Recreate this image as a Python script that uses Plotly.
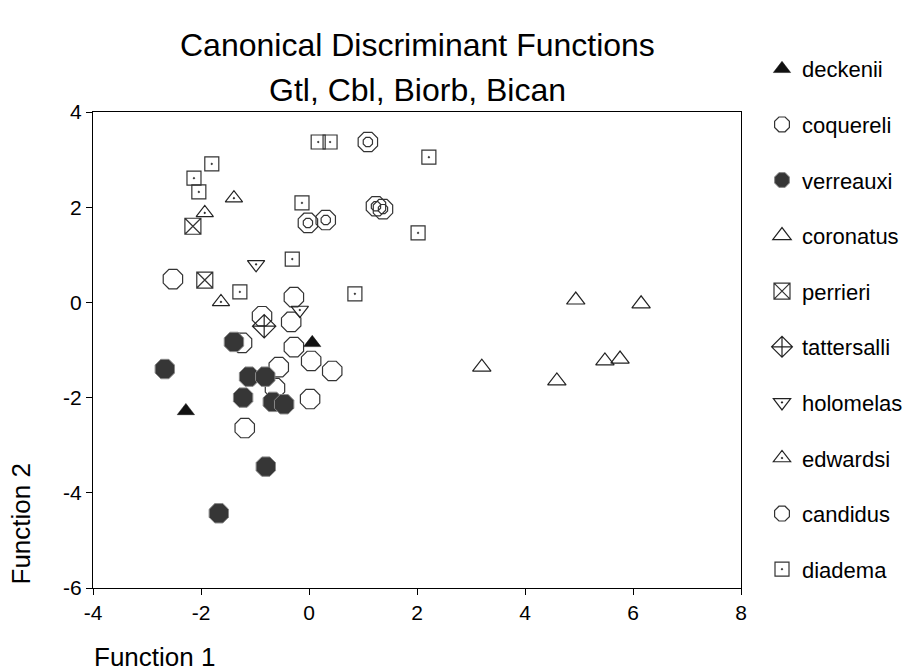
import plotly.graph_objects as go

# ---- data ----
deckenii_x = [-2.28, 0.06]
deckenii_y = [-2.28, -0.85]

coquereli_x = [-2.52, -0.28, -0.87, -0.33, -1.24, -0.28, 0.04, 0.43, -0.56, -0.63, 0.02, -1.19]
coquereli_y = [0.49, 0.11, -0.29, -0.41, -0.85, -0.94, -1.23, -1.44, -1.36, -1.80, -2.03, -2.64]

verreauxi_x = [-2.67, -1.39, -1.11, -0.81, -1.22, -0.67, -0.46, -0.80, -1.67]
verreauxi_y = [-1.40, -0.83, -1.56, -1.56, -2.00, -2.09, -2.14, -3.45, -4.43]

coronatus_x = [3.20, 4.59, 4.94, 6.15, 5.48, 5.76]
coronatus_y = [-1.36, -1.65, 0.05, -0.03, -1.23, -1.19]

perrieri_x = [-2.15, -1.93]
perrieri_y = [1.60, 0.47]

tattersalli_x = [-0.83]
tattersalli_y = [-0.50]

holomelas_x = [-0.98, -0.17]
holomelas_y = [0.80, -0.16]

edwardsi_x = [-1.39, -1.93, -1.63]
edwardsi_y = [2.19, 1.88, 0.01]

candidus_x = [1.09, -0.02, 0.31, 1.24, 1.37]
candidus_y = [3.37, 1.67, 1.73, 2.02, 1.96]

diadema_x = [-1.80, -2.13, -2.04, 0.17, 0.39, 2.22, -0.13, 2.02, -0.31, -1.28, 0.85]
diadema_y = [2.91, 2.61, 2.32, 3.37, 3.37, 3.05, 2.09, 1.46, 0.91, 0.22, 0.18]

x_ticks = [-4, -2, 0, 2, 4, 6, 8]
y_ticks = [-6, -4, -2, 0, 2, 4]

title_text = "Canonical Discriminant Functions"
subtitle_text = "Gtl, Cbl, Biorb, Bican"

FONT = "Liberation Sans, Arial, sans-serif"

fig = go.Figure()

def add(name, xs, ys, symbol, size, color="black", lw=1.2, fill=None, show=True, group=None):
    fig.add_trace(go.Scatter(
        x=xs, y=ys, mode="markers", name=name,
        legendgroup=group or name, showlegend=show,
        marker=dict(symbol=symbol, size=size, color=fill or color,
                    line=dict(color=color, width=lw)),
    ))

add("deckenii", deckenii_x, deckenii_y, "triangle-up", 15, color="#111111", lw=0.5)
add("coquereli", coquereli_x, coquereli_y, "octagon-open", 21, color="#333333")
add("verreauxi", verreauxi_x, verreauxi_y, "octagon", 21, color="#8a8a8a", lw=1, fill="#363636")
add("coronatus", coronatus_x, coronatus_y, "triangle-up-open", 16, color="#222222")
add("perrieri", perrieri_x, perrieri_y, "square-x-open", 16, color="#333333")
add("tattersalli", tattersalli_x, tattersalli_y, "diamond-cross-open", 18, color="#222222")
add("holomelas", holomelas_x, holomelas_y, "triangle-down-open-dot", 15, color="#222222")
add("edwardsi", edwardsi_x, edwardsi_y, "triangle-up-open-dot", 15, color="#222222")
add("candidus", candidus_x, candidus_y, "octagon-open", 21, color="#333333")
add("candidus", candidus_x, candidus_y, "octagon-open", 10, color="#333333", show=False, group="candidus")
add("diadema", diadema_x, diadema_y, "square-open-dot", 14, color="#333333")

# plot-area geometry in pixels
L, R, T, B = 93, 741, 112, 588
W, H = 914, 671

def px(xp):
    return (xp - L) / (R - L)

def py(yp):
    return (B - yp) / (B - T)

fig.update_layout(
    width=W, height=H,
    margin=dict(l=L, r=W - R, t=T, b=H - B),
    paper_bgcolor="white", plot_bgcolor="white",
    font=dict(family=FONT, size=20, color="black"),
    showlegend=True,
    legend=dict(
        xref="container", yref="container",
        x=762 / W, y=1 - 48 / H, xanchor="left", yanchor="top",
        font=dict(size=22, family=FONT),
        traceorder="grouped", tracegroupgap=24,
        bgcolor="rgba(0,0,0,0)", maxheight=2000,
    ),
    xaxis=dict(
        range=[-4, 8], tickvals=x_ticks, ticktext=[str(v) for v in x_ticks],
        showgrid=False, zeroline=False, showline=True, mirror=True,
        linecolor="black", linewidth=1.2, ticks="outside", ticklen=6,
        tickcolor="black", tickfont=dict(size=21),
    ),
    yaxis=dict(
        range=[-6, 4], tickvals=y_ticks, ticktext=[str(v) for v in y_ticks],
        showgrid=False, zeroline=False, showline=True, mirror=True,
        linecolor="black", linewidth=1.2, ticks="outside", ticklen=6,
        tickcolor="black", tickfont=dict(size=21),
    ),
    annotations=[
        dict(text=title_text, x=px(417), y=py(45), xref="paper", yref="paper",
             showarrow=False, font=dict(size=32, family=FONT), xanchor="center", yanchor="middle"),
        dict(text=subtitle_text, x=px(417), y=py(90), xref="paper", yref="paper",
             showarrow=False, font=dict(size=32, family=FONT), xanchor="center", yanchor="middle"),
        dict(text="Function 1", x=px(92), y=py(657), xref="paper", yref="paper",
             showarrow=False, font=dict(size=26, family=FONT), xanchor="left", yanchor="middle"),
        dict(text="Function 2", x=px(20), y=py(587), xref="paper", yref="paper",
             showarrow=False, textangle=-90, font=dict(size=26, family=FONT),
             xanchor="center", yanchor="bottom"),
    ],
)

fig.write_html("out.html")
